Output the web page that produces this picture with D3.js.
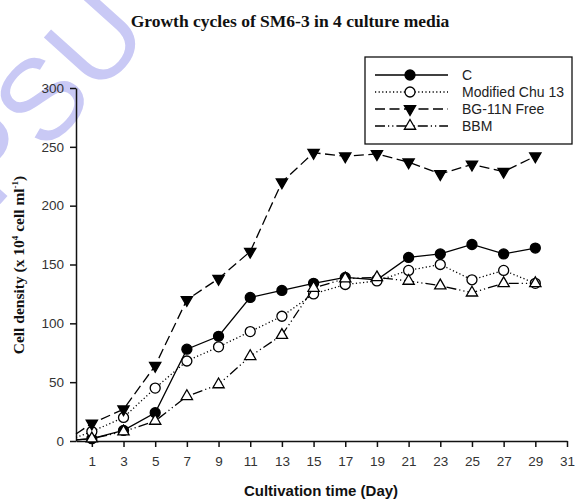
<!DOCTYPE html>
<html>
<head>
<meta charset="utf-8">
<script src="https://cdn.jsdelivr.net/npm/d3@7"></script>
<style>
  body { margin: 0; background: #fff; }
  svg { display: block; }
</style>
</head>
<body>
<svg id="chart" width="577" height="501"></svg>
<script>
// days sampled (day 0 only starts the lines, it has no marker)
const days = [0, 1, 3, 5, 7, 9, 11, 13, 15, 17, 19, 21, 23, 25, 27, 29];

// cell density, x 10^4 cell/ml
const mediumC = [1, 2, 9, 24, 78, 89, 122, 128, 134, 139, 137, 156, 159, 167, 159, 164];
const modifiedChu13 = [3, 8, 20, 45, 68, 80, 93, 106, 125, 133, 136, 145, 150, 137, 145, 134];
const bg11nFree = [6, 15, 27, 64, 120, 138, 161, 220, 245, 242, 244, 237, 227, 235, 229, 242];
const bbm = [1, 2, 8, 17, 38, 48, 72, 90, 130, 138, 139, 136, 132, 126, 134, 134];

const xTicks = [1, 3, 5, 7, 9, 11, 13, 15, 17, 19, 21, 23, 25, 27, 29, 31];
const yTicks = [0, 50, 100, 150, 200, 250, 300];

const series = [
  { name: "C", values: mediumC, dash: null, marker: "circle", fill: "#000" },
  { name: "Modified Chu 13", values: modifiedChu13, dash: "1.2,2.4", marker: "circle", fill: "#fff" },
  { name: "BG-11N Free", values: bg11nFree, dash: "10,4.5", marker: "down", fill: "#000" },
  { name: "BBM", values: bbm, dash: "10,3,1.2,3,1.2,3", marker: "up", fill: "#fff" }
];

const svg = d3.select("#chart");
const margin = { top: 88, right: 10, bottom: 60, left: 76 };
const W = 577, H = 501;

const x = d3.scaleLinear().domain([0, 31]).range([margin.left, W - margin.right]);
const y = d3.scaleLinear().domain([0, 300]).range([H - margin.bottom, margin.top]);

// watermark, mostly outside the picture
svg.append("text")
  .attr("transform", "translate(-6,211) rotate(-48)")
  .attr("font-family", "Liberation Sans, Arial, sans-serif")
  .attr("font-size", 115)
  .attr("fill", "#c9c9f5")
  .text("PSU");

// title
svg.append("text")
  .attr("x", 290).attr("y", 27)
  .attr("text-anchor", "middle")
  .attr("font-family", "Liberation Serif, Times New Roman, serif")
  .attr("font-weight", "bold")
  .attr("font-size", 17.5)
  .attr("fill", "#111")
  .text("Growth cycles of SM6-3 in 4 culture media");

// axes
const xAxis = svg.append("g")
  .attr("transform", `translate(0,${y(0)})`)
  .call(d3.axisBottom(x).tickValues(xTicks).tickSize(6).tickSizeOuter(0));
const yAxis = svg.append("g")
  .attr("transform", `translate(${x(0)},0)`)
  .call(d3.axisLeft(y).tickValues(yTicks).tickSize(6).tickSizeOuter(0));

[xAxis, yAxis].forEach(a => {
  a.selectAll("path, line").attr("stroke", "#111").attr("stroke-width", 1.5);
  a.selectAll("text")
    .attr("font-family", "Liberation Sans, Arial, sans-serif")
    .attr("font-size", 13.5)
    .attr("fill", "#333");
});
xAxis.selectAll("text").attr("y", 15);
yAxis.selectAll("text").attr("x", -12);

// axis titles
svg.append("text")
  .attr("x", 321).attr("y", 496)
  .attr("text-anchor", "middle")
  .attr("font-family", "Liberation Sans, Arial, sans-serif")
  .attr("font-weight", "bold")
  .attr("font-size", 15)
  .attr("fill", "#111")
  .text("Cultivation time (Day)");

const yl = svg.append("text")
  .attr("transform", "translate(24,265) rotate(-90)")
  .attr("text-anchor", "middle")
  .attr("font-family", "Liberation Serif, Times New Roman, serif")
  .attr("font-weight", "bold")
  .attr("font-size", 15.5)
  .attr("fill", "#111");
yl.append("tspan").text("Cell density (x 10");
yl.append("tspan").attr("dy", -6).attr("font-size", 9).text("4");
yl.append("tspan").attr("dy", 6).text(" cell ml");
yl.append("tspan").attr("dy", -6).attr("font-size", 9).text("-1");
yl.append("tspan").attr("dy", 6).text(")");

// markers
function drawMarker(g, s, cx, cy) {
  if (s.marker === "circle") {
    g.append("circle").attr("cx", cx).attr("cy", cy).attr("r", 5)
      .attr("fill", s.fill).attr("stroke", "#000").attr("stroke-width", 1.3);
  } else {
    const sym = d3.symbol().type(d3.symbolTriangle).size(55);
    g.append("path").attr("d", sym())
      .attr("transform", `translate(${cx},${cy}) rotate(${s.marker === "down" ? 180 : 0})`)
      .attr("fill", s.fill).attr("stroke", "#000").attr("stroke-width", 1.3);
  }
}

const line = d3.line().x((d, i) => x(days[i])).y(d => y(d));

series.forEach(s => {
  const g = svg.append("g");
  g.append("path")
    .attr("d", line(s.values))
    .attr("fill", "none")
    .attr("stroke", "#000")
    .attr("stroke-width", 1.3)
    .attr("stroke-dasharray", s.dash);
  s.values.forEach((v, i) => {
    if (days[i] > 0) drawMarker(g, s, x(days[i]), y(v));
  });
});

// legend
const lg = svg.append("g").attr("transform", "translate(365,57)");
lg.append("rect").attr("width", 207).attr("height", 87)
  .attr("fill", "#fff").attr("stroke", "#111").attr("stroke-width", 1.3);
series.forEach((s, i) => {
  const ry = 18 + i * 17;
  lg.append("line").attr("x1", 10).attr("x2", 83).attr("y1", ry).attr("y2", ry)
    .attr("stroke", "#000").attr("stroke-width", 1.3).attr("stroke-dasharray", s.dash);
  drawMarker(lg, s, 45, ry);
  lg.append("text").attr("x", 97).attr("y", ry + 5)
    .attr("font-family", "Liberation Sans, Arial, sans-serif")
    .attr("font-size", 14)
    .attr("fill", "#222")
    .text(s.name);
});
</script>
</body>
</html>
